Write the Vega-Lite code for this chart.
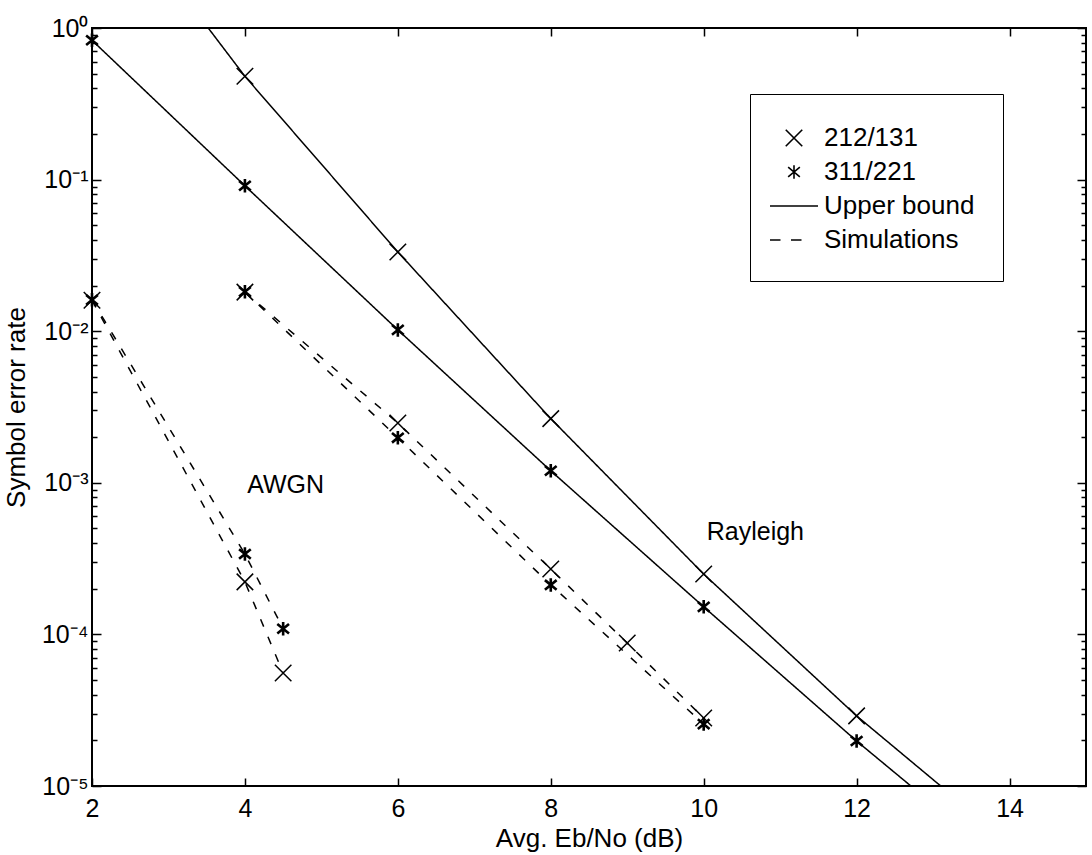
{
  "$schema": "https://vega.github.io/schema/vega-lite/v6.json",
  "width": 994,
  "height": 758,
  "autosize": {"type": "none"},
  "padding": {"left": 92, "top": 28, "right": 6, "bottom": 69},
  "background": "white",
  "config": {
    "font": "Liberation Sans",
    "view": {"stroke": "black", "strokeWidth": 2},
    "axis": {
      "domain": false,
      "grid": false,
      "ticks": true,
      "tickColor": "black",
      "tickWidth": 1.5,
      "zindex": 2,
      "labelFont": "Liberation Sans",
      "labelFontSize": 25,
      "labelColor": "black",
      "titleFont": "Liberation Sans",
      "titleFontSize": 26,
      "titleFontWeight": "normal",
      "titleColor": "black",
      "labelOverlap": false,
      "labelBound": false,
      "labelFlush": false
    }
  },
  "datasets": {
    "lines": [
      {"x": 3.52, "y": 1, "series": "ub212", "kind": "Upper bound"},
      {"x": 4, "y": 0.48, "series": "ub212", "kind": "Upper bound"},
      {"x": 6, "y": 0.0333, "series": "ub212", "kind": "Upper bound"},
      {"x": 8, "y": 0.00265, "series": "ub212", "kind": "Upper bound"},
      {"x": 10, "y": 0.00025, "series": "ub212", "kind": "Upper bound"},
      {"x": 12, "y": 0.000029, "series": "ub212", "kind": "Upper bound"},
      {"x": 13.1, "y": 0.00001, "series": "ub212", "kind": "Upper bound"},
      {"x": 2, "y": 0.83, "series": "ub311", "kind": "Upper bound"},
      {"x": 4, "y": 0.091, "series": "ub311", "kind": "Upper bound"},
      {"x": 6, "y": 0.0102, "series": "ub311", "kind": "Upper bound"},
      {"x": 8, "y": 0.0012, "series": "ub311", "kind": "Upper bound"},
      {"x": 10, "y": 0.000152, "series": "ub311", "kind": "Upper bound"},
      {"x": 12, "y": 0.0000198, "series": "ub311", "kind": "Upper bound"},
      {"x": 12.71, "y": 0.00001, "series": "ub311", "kind": "Upper bound"},
      {"x": 2, "y": 0.016, "series": "awgn212", "kind": "Simulations"},
      {"x": 4, "y": 0.000222, "series": "awgn212", "kind": "Simulations"},
      {"x": 4.5, "y": 0.0000556, "series": "awgn212", "kind": "Simulations"},
      {"x": 2, "y": 0.0161, "series": "awgn311", "kind": "Simulations"},
      {"x": 4, "y": 0.000339, "series": "awgn311", "kind": "Simulations"},
      {"x": 4.5, "y": 0.000109, "series": "awgn311", "kind": "Simulations"},
      {"x": 4, "y": 0.0181, "series": "ray212", "kind": "Simulations"},
      {"x": 6, "y": 0.00248, "series": "ray212", "kind": "Simulations"},
      {"x": 8, "y": 0.00027, "series": "ray212", "kind": "Simulations"},
      {"x": 9, "y": 0.0000877, "series": "ray212", "kind": "Simulations"},
      {"x": 10, "y": 0.0000281, "series": "ray212", "kind": "Simulations"},
      {"x": 4, "y": 0.0182, "series": "ray311", "kind": "Simulations"},
      {"x": 6, "y": 0.00198, "series": "ray311", "kind": "Simulations"},
      {"x": 8, "y": 0.000212, "series": "ray311", "kind": "Simulations"},
      {"x": 10, "y": 0.0000256, "series": "ray311", "kind": "Simulations"}
    ],
    "points": [
      {"x": 4, "y": 0.48, "leg": "212/131"},
      {"x": 6, "y": 0.0333, "leg": "212/131"},
      {"x": 8, "y": 0.00265, "leg": "212/131"},
      {"x": 10, "y": 0.00025, "leg": "212/131"},
      {"x": 12, "y": 0.000029, "leg": "212/131"},
      {"x": 2, "y": 0.016, "leg": "212/131"},
      {"x": 4, "y": 0.000222, "leg": "212/131"},
      {"x": 4.5, "y": 0.0000556, "leg": "212/131"},
      {"x": 4, "y": 0.0181, "leg": "212/131"},
      {"x": 6, "y": 0.00248, "leg": "212/131"},
      {"x": 8, "y": 0.00027, "leg": "212/131"},
      {"x": 9, "y": 0.0000877, "leg": "212/131"},
      {"x": 10, "y": 0.0000281, "leg": "212/131"},
      {"x": 2, "y": 0.83, "leg": "311/221"},
      {"x": 4, "y": 0.091, "leg": "311/221"},
      {"x": 6, "y": 0.0102, "leg": "311/221"},
      {"x": 8, "y": 0.0012, "leg": "311/221"},
      {"x": 10, "y": 0.000152, "leg": "311/221"},
      {"x": 12, "y": 0.0000198, "leg": "311/221"},
      {"x": 2, "y": 0.0161, "leg": "311/221"},
      {"x": 4, "y": 0.000339, "leg": "311/221"},
      {"x": 4.5, "y": 0.000109, "leg": "311/221"},
      {"x": 4, "y": 0.0182, "leg": "311/221"},
      {"x": 6, "y": 0.00198, "leg": "311/221"},
      {"x": 8, "y": 0.000212, "leg": "311/221"},
      {"x": 10, "y": 0.0000256, "leg": "311/221"}
    ],
    "notes": [
      {"x": 4.03, "y": 0.00097, "label": "AWGN"},
      {"x": 10.04, "y": 0.000474, "label": "Rayleigh"}
    ]
  },
  "layer": [
    {
      "data": {"name": "lines"},
      "mark": {"type": "line", "color": "black", "strokeWidth": 1.5},
      "encoding": {
        "x": {
          "field": "x", "type": "quantitative",
          "scale": {"domain": [2, 15], "nice": false, "zero": false},
          "axis": {
            "orient": "bottom",
            "values": [2, 4, 6, 8, 10, 12, 14],
            "format": "d",
            "title": "Avg. Eb/No (dB)",
            "offset": -8,
            "tickSize": 8,
            "labelPadding": 10,
            "titlePadding": 4
          }
        },
        "y": {
          "field": "y", "type": "quantitative",
          "scale": {"type": "log", "domain": [0.00001, 1], "nice": false},
          "axis": {
            "orient": "left",
            "values": [0.00001,0.00002,0.00003,0.00004,0.00005,0.00006,0.00007,0.00008,0.00009,0.0001,0.0002,0.0003,0.0004,0.0005,0.0006,0.0007,0.0008,0.0009,0.001,0.002,0.003,0.004,0.005,0.006,0.007,0.008,0.009,0.01,0.02,0.03,0.04,0.05,0.06,0.07,0.08,0.09,0.1,0.2,0.3,0.4,0.5,0.6,0.7,0.8,0.9,1],
            "title": "Symbol error rate",
            "labelExpr": "datum.value == 1 ? '10⁰' : datum.value == 0.1 ? '10⁻¹' : datum.value == 0.01 ? '10⁻²' : datum.value == 0.001 ? '10⁻³' : datum.value == 0.0001 ? '10⁻⁴' : datum.value == 0.00001 ? '10⁻⁵' : ''",
            "offset": -9,
            "tickSize": 9,
            "tickDash": {"condition": {"test": "datum.value == 1 || datum.value == 0.1 || datum.value == 0.01 || datum.value == 0.001 || datum.value == 0.0001 || datum.value == 0.00001", "value": [1, 0]}, "value": [0, 4, 5, 100]},
            "labelPadding": 4,
            "titlePadding": 12
          }
        },
        "detail": {"field": "series", "type": "nominal"},
        "strokeDash": {
          "field": "kind", "type": "nominal",
          "scale": {"domain": ["Upper bound", "Simulations"], "range": [[1, 0], [8, 11]]},
          "legend": null
        }
      }
    },
    {
      "data": {"name": "points"},
      "mark": {"type": "point", "filled": false, "color": "black", "opacity": 1, "size": 900},
      "encoding": {
        "x": {"field": "x", "type": "quantitative", "axis": null},
        "y": {"field": "y", "type": "quantitative", "axis": null},
        "shape": {
          "field": "leg", "type": "nominal",
          "scale": {
            "domain": ["212/131", "311/221", "Upper bound", "Simulations"],
            "range": ["M-0.55,-0.55L0.55,0.55M-0.55,0.55L0.55,-0.55", "M0,-0.45L0,0.45M-0.39,-0.32L0.39,0.32M-0.39,0.32L0.39,-0.32", "M-1.6,0L1.6,0", "M-1.6,0L-0.9,0M-0.2,0L0.5,0"]
          },
          "legend": {
            "title": null,
            "orient": "none",
            "legendX": 658,
            "legendY": 66,
            "strokeColor": "black",
            "fillColor": "white",
            "padding": 28,
            "rowPadding": 5,
            "labelOffset": 14,
            "labelFontSize": 26,
            "labelFont": "Liberation Sans",
            "labelColor": "black",
            "symbolSize": 900,
            "symbolStrokeColor": "black",
            "symbolFillColor": "transparent",
            "symbolStrokeWidth": 1.6
          }
        },
        "strokeWidth": {
          "field": "leg", "type": "nominal",
          "scale": {"domain": ["212/131", "311/221"], "range": [1.5, 2.6]},
          "legend": null
        }
      }
    },
    {
      "data": {"name": "notes"},
      "mark": {"type": "text", "fontSize": 25, "font": "Liberation Sans", "align": "left", "baseline": "middle", "color": "black"},
      "encoding": {
        "x": {
          "field": "x", "type": "quantitative",
          "axis": {"orient": "top", "values": [2, 4, 6, 8, 10, 12, 14], "labels": false, "offset": -8, "tickSize": 8, "title": null}
        },
        "y": {
          "field": "y", "type": "quantitative",
          "axis": {
            "orient": "right",
            "values": [0.00001,0.00002,0.00003,0.00004,0.00005,0.00006,0.00007,0.00008,0.00009,0.0001,0.0002,0.0003,0.0004,0.0005,0.0006,0.0007,0.0008,0.0009,0.001,0.002,0.003,0.004,0.005,0.006,0.007,0.008,0.009,0.01,0.02,0.03,0.04,0.05,0.06,0.07,0.08,0.09,0.1,0.2,0.3,0.4,0.5,0.6,0.7,0.8,0.9,1],
            "labels": false,
            "offset": -9,
            "tickSize": 9,
            "tickDash": {"condition": {"test": "datum.value == 1 || datum.value == 0.1 || datum.value == 0.01 || datum.value == 0.001 || datum.value == 0.0001 || datum.value == 0.00001", "value": [1, 0]}, "value": [0, 4, 5, 100]},
            "title": null
          }
        },
        "text": {"field": "label", "type": "nominal"}
      }
    }
  ],
  "resolve": {"axis": {"x": "independent", "y": "independent"}}
}
